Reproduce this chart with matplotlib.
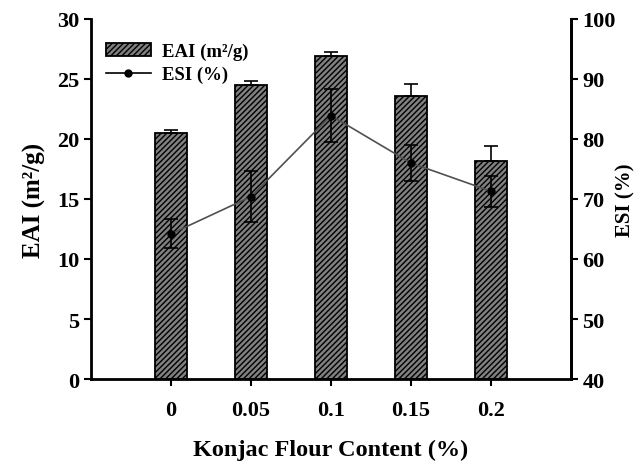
import matplotlib
matplotlib.use("Agg")
import matplotlib.pyplot as plt
import numpy as np
from matplotlib.lines import Line2D

categories = ["0", "0.05", "0.1", "0.15", "0.2"]
eai = [20.5, 24.5, 26.9, 23.6, 18.2]
eai_err = [0.25, 0.3, 0.35, 1.0, 1.2]
esi = [64.2, 70.4, 83.9, 76.0, 71.3]
esi_err = [2.4, 4.2, 4.4, 3.0, 2.6]

plt.rcParams['font.family'] = ['Liberation Serif']
plt.rcParams['font.weight'] = 'bold'
plt.rcParams['hatch.linewidth'] = 1.0

fig = plt.figure(figsize=(6.42, 4.64), dpi=100)
ax = fig.add_axes([0.142, 0.181, 0.747, 0.776])
x = np.arange(len(categories))
ax.bar(x, eai, width=0.4, color='#808080', edgecolor='black', hatch='//////',
       linewidth=1.3, label='EAI (m²/g)', zorder=2)
ax.errorbar(x, eai, yerr=[np.zeros(len(eai)), eai_err], fmt='none', ecolor='black',
            elinewidth=1.2, capsize=5, capthick=1.2, zorder=3)
ax.set_xlim(-1, 5)
ax.set_ylim(0, 30)
ax.set_xticks(x)
ax.set_xticklabels(categories)
ax.set_yticks(range(0, 31, 5))
for s in ['left', 'bottom', 'right']:
    ax.spines[s].set_linewidth(2)
ax.spines['top'].set_visible(False)
ax.tick_params(axis='both', direction='out', width=1.5, length=5, labelsize=16)
ax.tick_params(axis='x', pad=10)
ax.set_ylabel('EAI (m²/g)', fontsize=18, fontweight='bold', labelpad=8)
ax.set_xlabel('Konjac Flour Content (%)', fontsize=17.5, fontweight='bold', labelpad=14)

ax2 = ax.twinx()
ax2.errorbar(x, esi, yerr=esi_err, fmt='-o', color='#505050', mfc='black', mec='black',
             ms=5, lw=1.2, ecolor='black', elinewidth=1.2, capsize=5, capthick=1.2,
             label='ESI (%)', zorder=4)
ax2.set_ylim(40, 100)
ax2.set_yticks(range(40, 101, 10))
ax2.spines['top'].set_visible(False)
ax2.spines['right'].set_linewidth(2)
ax2.tick_params(axis='y', direction='out', width=1.5, length=5, labelsize=16)
ax2.set_ylabel('ESI (%)', fontsize=15, fontweight='bold')
ax2.yaxis.set_label_coords(1.093, 0.5)

h1, l1 = ax.get_legend_handles_labels()
h2 = [Line2D([0], [0], color='black', marker='o', ms=5, lw=1.2)]
ax.legend(h1 + h2, l1 + ['ESI (%)'], loc='upper left', bbox_to_anchor=(-0.005, 0.98),
          frameon=False, fontsize=13.5, handlelength=2.4, labelspacing=0.3,
          handletextpad=0.6)

fig.savefig('out.png', dpi=100)
